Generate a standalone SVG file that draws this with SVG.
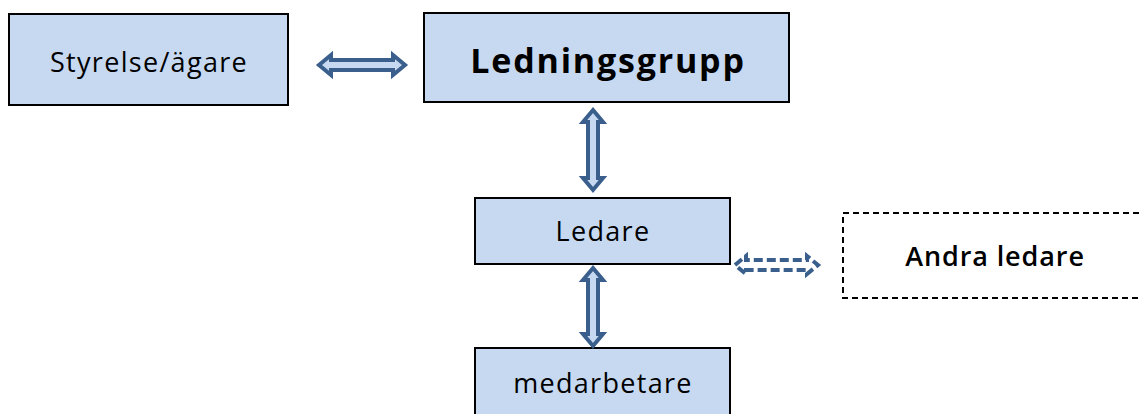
<svg xmlns="http://www.w3.org/2000/svg" width="1142" height="414" viewBox="0 0 1142 414">
<style>
.box{fill:#c6d9f1;stroke:#000;stroke-width:2}
.dbox{fill:#fff;stroke:#000;stroke-width:2;stroke-dasharray:6 4}
.t{font-family:"Open Sans","Liberation Sans",sans-serif;font-size:27px;letter-spacing:1.3px;fill:#000;text-anchor:middle}
.arr{fill:#c6d9f1;stroke:#3b5f8d;stroke-width:4;stroke-linejoin:miter}
.darr{fill:#fff;stroke:#3b5f8d;stroke-width:4;stroke-dasharray:9 4}
</style>
<rect width="1142" height="414" fill="#fff"/>
<g id="styrelse">
<rect class="box" x="9" y="14" width="279" height="91"/>
<text class="t" x="149" y="72">Styrelse/ägare</text>
</g>
<g id="ledningsgrupp">
<rect class="box" x="424" y="13" width="365" height="89"/>
<text class="t" x="608" y="73" style="font-size:34px;font-weight:bold;letter-spacing:1.8px">Ledningsgrupp</text>
</g>
<g id="ledare">
<rect class="box" x="475" y="198" width="255" height="66"/>
<text class="t" x="603" y="241">Ledare</text>
</g>
<g id="medarbetare">
<rect class="box" x="475" y="348" width="255" height="70"/>
<text class="t" x="603" y="393">medarbetare</text>
</g>
<g id="andra">
<rect class="dbox" x="843" y="213" width="305" height="85"/>
<text class="t" x="995" y="266" style="font-weight:600;letter-spacing:0.9px">Andra ledare</text>
</g>
<g id="connectors">
<path class="arr" d="M319,65 L331,55 L331,60 L393,60 L393,55 L405,65 L393,75 L393,70 L331,70 L331,75 Z"/>
<path class="arr" d="M593,110 L603,122 L598,122 L598,178 L603,178 L593,190 L583,178 L588,178 L588,122 L583,122 Z"/>
<path class="arr" d="M593,268 L603,280 L598,280 L598,334 L603,334 L593,346 L583,334 L588,334 L588,280 L583,280 Z"/>
<path class="darr" d="M735,265 L746,256 L746,260 L807,260 L807,256 L818,265 L807,274 L807,270 L746,270 L746,274 Z"/>
</g>
</svg>
